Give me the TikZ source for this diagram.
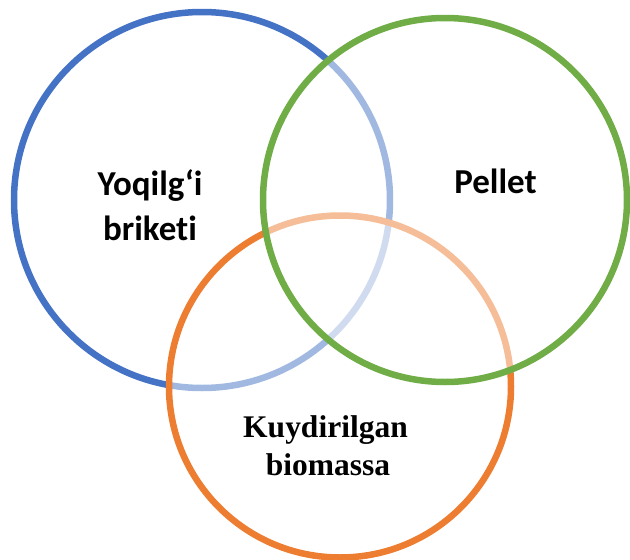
\documentclass[tikz,border=0pt]{standalone}
\usepackage{fontspec}
\setmainfont{Liberation Serif}
\newfontfamily\calib[Ligatures=NoCommon]{Carlito}
\definecolor{cblue}{HTML}{4472C4}
\definecolor{corange}{HTML}{ED7D31}
\definecolor{cgreen}{HTML}{70AD47}
\begin{document}
\begin{tikzpicture}[x=1pt,y=-1pt]
\tikzset{
  ring/.style={circle, inner sep=0pt, line width=6.5pt, fill=white, fill opacity=0.5, draw opacity=1},
  sanslabel/.style={anchor=base, inner sep=0pt, font=\calib\bfseries\fontsize{35}{42}\selectfont},
  seriflabel/.style={anchor=base, inner sep=0pt, font=\bfseries\fontsize{31.5}{38}\selectfont}
}
\useasboundingbox (0,0) rectangle (630,560);
\node[ring, draw=cblue, minimum size=376pt] (blue) at (202,200) {};
\node[ring, draw=corange, minimum size=342pt] (orange) at (340,386.5) {};
\node[ring, draw=cgreen, minimum size=364pt] (green) at (445,200) {};
\node[sanslabel] (t1a) at (150,195.5) {Yoqilg‘i};
\node[sanslabel] (t1b) at (150,240.5) {briketi};
\node[sanslabel] (t2) at (495.5,193) {Pellet};
\node[seriflabel] (t3a) at (325.5,437) {Kuydirilgan};
\node[seriflabel] (t3b) at (328,475) {biomassa};
\end{tikzpicture}
\end{document}
